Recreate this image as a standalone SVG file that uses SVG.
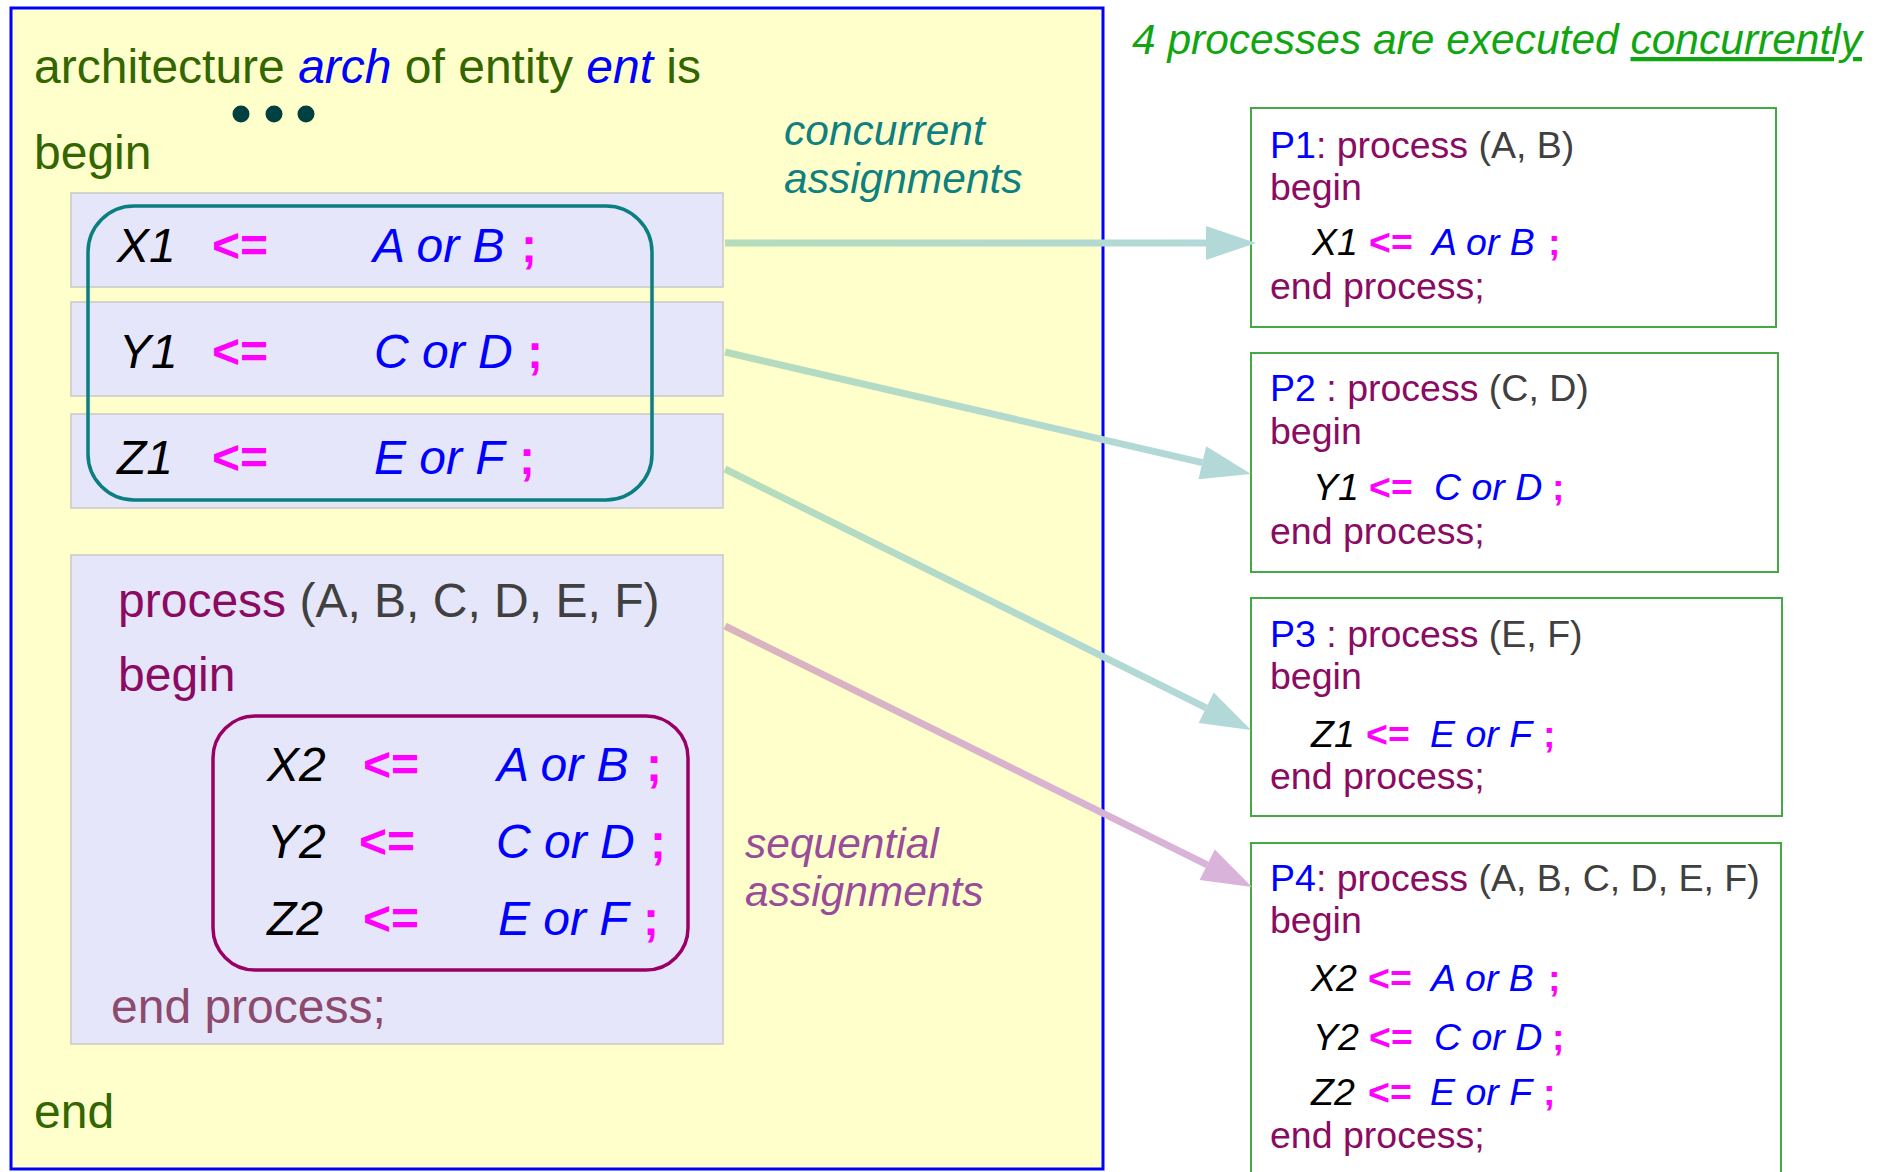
<svg xmlns="http://www.w3.org/2000/svg" width="1886" height="1172" viewBox="0 0 1886 1172">
<style>
text{font-family:"Liberation Sans",Arial,sans-serif;}
.kw{fill:#336600;font-size:48px;}
.var{fill:#000;font-style:italic;}
.op{fill:#ff00ff;font-weight:bold;}
.ex{fill:#0000ff;font-style:italic;}
.proc{fill:#8b0a62;}
.gray{fill:#404040;}
.row{fill:#e6e6fa;stroke:#c8c8c8;stroke-width:1.5;}
.pbox{fill:#fff;stroke:#44a844;stroke-width:2;}
.big{font-size:48px;}
.sm{font-size:37.5px;}
.note{font-size:42.5px;font-style:italic;}
</style>
<defs>
<linearGradient id="g1" gradientUnits="userSpaceOnUse" x1="725" y1="243" x2="1206" y2="243"><stop offset="0" stop-color="#b4dcbc"/><stop offset="1" stop-color="#b2d8d8"/></linearGradient>
<linearGradient id="g2" gradientUnits="userSpaceOnUse" x1="725" y1="352" x2="1202" y2="463"><stop offset="0" stop-color="#b4dcbc"/><stop offset="1" stop-color="#b2d8d8"/></linearGradient>
<linearGradient id="g3" gradientUnits="userSpaceOnUse" x1="725" y1="469" x2="1206" y2="708"><stop offset="0" stop-color="#b4dcbc"/><stop offset="1" stop-color="#b2d8d8"/></linearGradient>
<linearGradient id="g4" gradientUnits="userSpaceOnUse" x1="725" y1="626" x2="1207" y2="865"><stop offset="0" stop-color="#d9b3bd"/><stop offset="1" stop-color="#d9b3da"/></linearGradient>
<marker id="mt" markerUnits="userSpaceOnUse" markerWidth="50" markerHeight="34" refX="0" refY="17" orient="auto" overflow="visible"><path d="M0,0 L50,17 L0,34 Z" fill="#b2d8d8"/></marker>
<marker id="mp" markerUnits="userSpaceOnUse" markerWidth="50" markerHeight="34" refX="0" refY="17" orient="auto" overflow="visible"><path d="M0,0 L50,17 L0,34 Z" fill="#d9b3da"/></marker>
</defs>

<g id="architecture">
<rect x="11" y="8" width="1092" height="1161" fill="#ffffcc" stroke="#0000ff" stroke-width="3"/>
<text x="34" y="83" class="kw">architecture <tspan fill="#0000ff" font-style="italic">arch</tspan> of entity <tspan fill="#0000ff" font-style="italic">ent</tspan> is</text>
<circle cx="241" cy="114" r="8.5" fill="#004040"/>
<circle cx="274" cy="114" r="8.5" fill="#004040"/>
<circle cx="306" cy="114" r="8.5" fill="#004040"/>
<text x="34" y="169" class="kw">begin</text>
<text x="34" y="1128" class="kw">end</text>
</g>

<g id="concurrent-assignments">
<rect x="71" y="193" width="652" height="94" class="row"/>
<rect x="71" y="302" width="652" height="94" class="row"/>
<rect x="71" y="414" width="652" height="94" class="row"/>
<rect x="88" y="206" width="564" height="294" rx="46" ry="46" fill="none" stroke="#0a7f7f" stroke-width="3.5"/>
<text class="big"><tspan x="117" y="262" class="var">X1</tspan><tspan x="212" y="262" class="op">&lt;=</tspan><tspan x="373" y="262" class="ex">A or B</tspan><tspan x="521" y="262" class="op">;</tspan></text>
<text class="big"><tspan x="119" y="368" class="var">Y1</tspan><tspan x="212" y="368" class="op">&lt;=</tspan><tspan x="374" y="368" class="ex">C or D</tspan><tspan x="527" y="368" class="op">;</tspan></text>
<text class="big"><tspan x="117" y="474" class="var">Z1</tspan><tspan x="212" y="474" class="op">&lt;=</tspan><tspan x="374" y="474" class="ex">E or F</tspan><tspan x="519" y="474" class="op">;</tspan></text>
<text x="784" y="145" class="note" fill="#0f7f7f">concurrent</text>
<text x="784" y="193" class="note" fill="#0f7f7f">assignments</text>
</g>

<g id="process-block">
<rect x="71" y="555" width="652" height="489" class="row"/>
<text x="118" y="617" class="big"><tspan class="proc">process</tspan><tspan class="gray"> (A, B, C, D, E, F)</tspan></text>
<text x="118" y="691" class="big proc">begin</text>
<rect x="213" y="716" width="475" height="254" rx="42" ry="42" fill="none" stroke="#990066" stroke-width="3.5"/>
<text class="big"><tspan x="267" y="781" class="var">X2</tspan><tspan x="363" y="781" class="op">&lt;=</tspan><tspan x="497" y="781" class="ex">A or B</tspan><tspan x="646" y="781" class="op">;</tspan></text>
<text class="big"><tspan x="267" y="858" class="var">Y2</tspan><tspan x="359" y="858" class="op">&lt;=</tspan><tspan x="496" y="858" class="ex">C or D</tspan><tspan x="650" y="858" class="op">;</tspan></text>
<text class="big"><tspan x="267" y="935" class="var">Z2</tspan><tspan x="363" y="935" class="op">&lt;=</tspan><tspan x="498" y="935" class="ex">E or F</tspan><tspan x="643" y="935" class="op">;</tspan></text>
<text x="111" y="1023" class="big" fill="#8c4a6e">end process;</text>
<text x="745" y="858" class="note" fill="#994c99">sequential</text>
<text x="745" y="906" class="note" fill="#994c99">assignments</text>
</g>

<g id="title">
<text x="1132" y="54" class="note" fill="#11a611">4 processes are executed <tspan text-decoration="underline">concurrently</tspan></text>
</g>

<g id="P1">
<rect x="1251" y="108" width="525" height="219" class="pbox"/>
<text x="1270" y="158" class="sm"><tspan fill="#0000ff">P1</tspan><tspan class="proc">: process</tspan><tspan class="gray"> (A, B)</tspan></text>
<text x="1270" y="200" class="sm proc">begin</text>
<text class="sm"><tspan x="1312" y="255" class="var">X1</tspan><tspan x="1369" y="255" class="op">&lt;=</tspan><tspan x="1432" y="255" class="ex">A or B</tspan><tspan x="1548" y="255" class="op">;</tspan></text>
<text x="1270" y="299" class="sm proc">end process;</text>
</g>

<g id="P2">
<rect x="1251" y="353" width="527" height="219" class="pbox"/>
<text x="1270" y="401" class="sm"><tspan fill="#0000ff">P2</tspan><tspan class="proc"> : process</tspan><tspan class="gray"> (C, D)</tspan></text>
<text x="1270" y="444" class="sm proc">begin</text>
<text class="sm"><tspan x="1313" y="500" class="var">Y1</tspan><tspan x="1369" y="500" class="op">&lt;=</tspan><tspan x="1434" y="500" class="ex">C or D</tspan><tspan x="1552" y="500" class="op">;</tspan></text>
<text x="1270" y="544" class="sm proc">end process;</text>
</g>

<g id="P3">
<rect x="1251" y="598" width="531" height="218" class="pbox"/>
<text x="1270" y="647" class="sm"><tspan fill="#0000ff">P3</tspan><tspan class="proc"> : process</tspan><tspan class="gray"> (E, F)</tspan></text>
<text x="1270" y="689" class="sm proc">begin</text>
<text class="sm"><tspan x="1311" y="747" class="var">Z1</tspan><tspan x="1366" y="747" class="op">&lt;=</tspan><tspan x="1430" y="747" class="ex">E or F</tspan><tspan x="1543" y="747" class="op">;</tspan></text>
<text x="1270" y="789" class="sm proc">end process;</text>
</g>

<g id="P4">
<rect x="1251" y="843" width="530" height="340" class="pbox"/>
<text x="1270" y="891" class="sm"><tspan fill="#0000ff">P4</tspan><tspan class="proc">: process</tspan><tspan class="gray"> (A, B, C, D, E, F)</tspan></text>
<text x="1270" y="933" class="sm proc">begin</text>
<text class="sm"><tspan x="1311" y="991" class="var">X2</tspan><tspan x="1368" y="991" class="op">&lt;=</tspan><tspan x="1431" y="991" class="ex">A or B</tspan><tspan x="1548" y="991" class="op">;</tspan></text>
<text class="sm"><tspan x="1313" y="1050" class="var">Y2</tspan><tspan x="1369" y="1050" class="op">&lt;=</tspan><tspan x="1434" y="1050" class="ex">C or D</tspan><tspan x="1552" y="1050" class="op">;</tspan></text>
<text class="sm"><tspan x="1311" y="1105" class="var">Z2</tspan><tspan x="1368" y="1105" class="op">&lt;=</tspan><tspan x="1430" y="1105" class="ex">E or F</tspan><tspan x="1543" y="1105" class="op">;</tspan></text>
<text x="1270" y="1148" class="sm proc">end process;</text>
</g>

<g id="connectors" fill="none" stroke-width="7">
<path d="M725,243 L1206,243" stroke="url(#g1)" marker-end="url(#mt)"/>
<path d="M725,352 L1202.3,462.7" stroke="url(#g2)" marker-end="url(#mt)"/>
<path d="M725,469 L1206.2,707.8" stroke="url(#g3)" marker-end="url(#mt)"/>
<path d="M725,626 L1207.2,864.8" stroke="url(#g4)" marker-end="url(#mp)"/>
</g>
</svg>
